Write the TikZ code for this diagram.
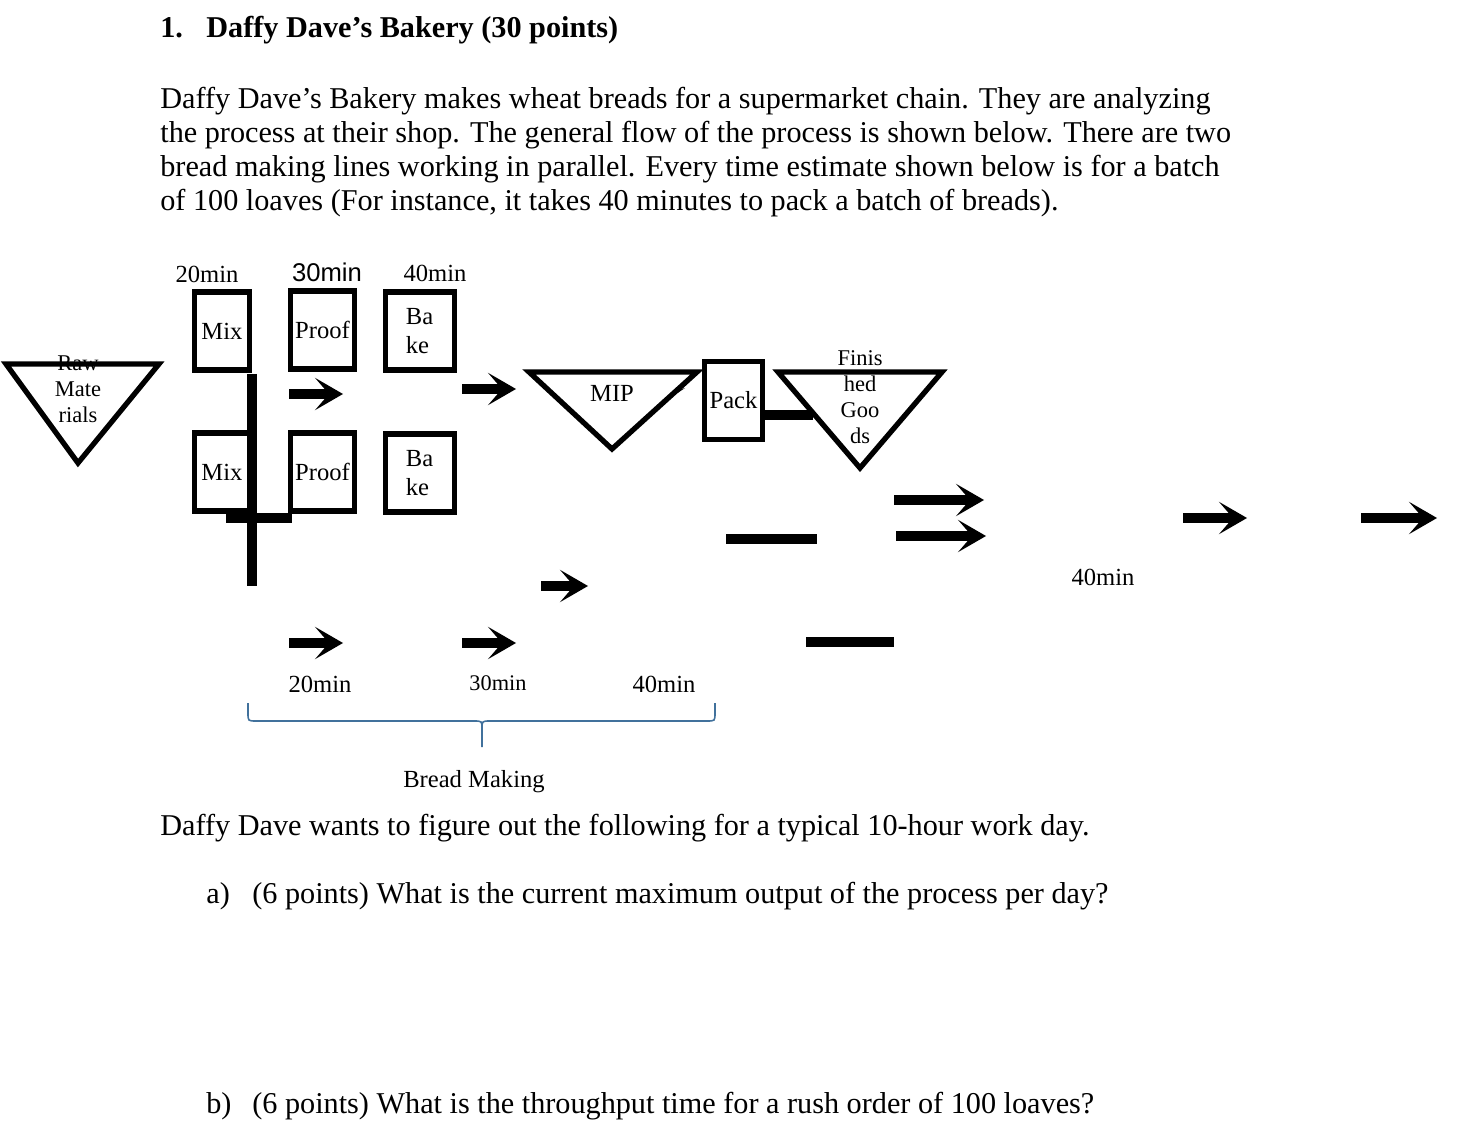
\documentclass[tikz,border=0pt]{standalone}
\usepackage{fontspec}
\setmainfont{Liberation Serif}
\setsansfont{Liberation Sans}
\usetikzlibrary{arrows.meta}

\definecolor{bracecol}{RGB}{65,113,156}

\begin{document}
\begin{tikzpicture}[
    x=0.2mm, y=-0.2mm,
    >={Stealth[length=16pt,width=18.5pt,inset=8pt,line width=0pt]},
    body/.style={anchor=base west, inner sep=0pt, font=\fontsize{17.2}{20}\selectfont},
    head/.style={anchor=base west, inner sep=0pt, font=\fontsize{17.2}{20}\selectfont\bfseries},
    lbl/.style={anchor=base, inner sep=0pt, font=\fontsize{14}{16.5}\selectfont},
    stage/.style={draw, line width=3pt, fill=white, inner sep=0pt, align=center,
                  font=\fontsize{14}{16.5}\selectfont, minimum height=15.65mm},
    store/.style={draw, line width=3pt},
    tlbl/.style={align=center, inner sep=0pt, font=\fontsize{12.8}{14.8}\selectfont},
    flow/.style={->, line width=5.7pt},
    bar/.style={line width=5.7pt},
    brc/.style={draw=bracecol, line width=0.9pt}
]
\useasboundingbox (0,0) rectangle (1462,1145);

% ---- question text ----
\node[head] (num)   at (160,38) {1.};
\node[head] (title) at (206,38) {Daffy Dave’s Bakery (30 points)};
\node[body] (p1) at (160,109) {Daffy Dave’s Bakery makes wheat breads for a supermarket chain. They are analyzing};
\node[body] (p2) at (160,143) {the process at their shop. The general flow of the process is shown below. There are two};
\node[body] (p3) at (160,177) {bread making lines working in parallel. Every time estimate shown below is for a batch};
\node[body] (p4) at (160,211) {of 100 loaves (For instance, it takes 40 minutes to pack a batch of breads).};

% ---- time labels ----
\node[lbl] (t20) at (207,283) {20min};
\node[lbl, font=\sffamily\fontsize{14.6}{17}\selectfont] (t30) at (327,282) {30min};
\node[lbl] (t40) at (435,282) {40min};

% ---- raw materials ----
\node[tlbl] (raw) at (78,389) {Raw\\Mate\\rials};
\draw[store] (6,364) -- (159,364) -- (78,463) -- cycle;

% ---- two bread lines ----
\node[stage, minimum width=10.95mm] (mix1)   at (222,331)   {Mix};
\node[stage, minimum width=12.75mm] (proof1) at (322.5,330) {Proof};
\node[stage, minimum width=13.75mm, align=left] (bake1) at (420,331) {Ba\\ke\hspace*{1mm}};
\node[stage, minimum width=10.95mm] (mix2)   at (222,472)   {Mix};
\node[stage, minimum width=12.75mm] (proof2) at (322.5,472) {Proof};
\node[stage, minimum width=13.75mm, align=left] (bake2) at (420,473) {Ba\\ke\hspace*{1mm}};

% ---- MIP, pack, finished goods ----
\draw[store] (529,372) -- (697,372) -- (612,449) -- cycle;
\node[tlbl, font=\fontsize{14}{16.5}\selectfont] (mip) at (612,393) {MIP};
\fill (667,400) -- (685,388) -- (676,391) -- cycle;
\node[stage, minimum width=11.55mm, minimum height=15.55mm] (pack) at (733.5,400.5) {Pack};
\draw[store] (778,372) -- (942,372) -- (860,468) -- cycle;
\node[tlbl] (fg) at (860,397) {Finis\\hed\\Goo\\ds};

% ---- loose bars ----
\foreach \n/\xa/\ya/\xb/\yb in {1/252/374/252/586, 2/226/518/292/518, 3/765/415/813/415,
                                4/726/539/817/539, 5/806/642/894/642}{
  \coordinate (k\n s) at (\xa,\ya);
  \coordinate (k\n e) at (\xb,\yb);
  \draw[bar] (k\n s) -- (k\n e);
}

% ---- loose arrows ----
\foreach \n/\xa/\xb/\y in {1/289/343/394, 2/462/516/389, 3/541/588/586, 4/289/343/643,
                           5/462/516/643, 6/894/984/500, 7/896/986/536, 8/1183/1247/518,
                           9/1361/1437/518}{
  \coordinate (f\n s) at (\xa,\y);
  \coordinate (f\n e) at (\xb,\y);
  \draw[flow] (f\n s) -- (f\n e);
}

\node[lbl] (r40) at (1103,585) {40min};

% ---- bottom labels and brace ----
\node[lbl] (b20) at (320,692) {20min};
\node[lbl, font=\fontsize{12.7}{15}\selectfont] (b30) at (498,690) {30min};
\node[lbl] (b40) at (664,692) {40min};
\draw[brc] (248,703) -- (248,713) .. controls (248,721) .. (256,721) -- (474,721)
           .. controls (482,721) .. (482,729) -- (482,747);
\draw[brc] (482,729) .. controls (482,721) .. (490,721) -- (707,721)
           .. controls (715,721) .. (715,713) -- (715,703);
\node[lbl] (bread) at (474,787) {Bread Making};

% ---- questions ----
\node[body] (q0)  at (160,835)  {Daffy Dave wants to figure out the following for a typical 10-hour work day.};
\node[body] (qa)  at (206,903)  {a)};
\node[body] (qat) at (252,903)  {(6 points) What is the current maximum output of the process per day?};
\node[body] (qb)  at (206,1113) {b)};
\node[body] (qbt) at (252,1113) {(6 points) What is the throughput time for a rush order of 100 loaves?};

\end{tikzpicture}
\end{document}
